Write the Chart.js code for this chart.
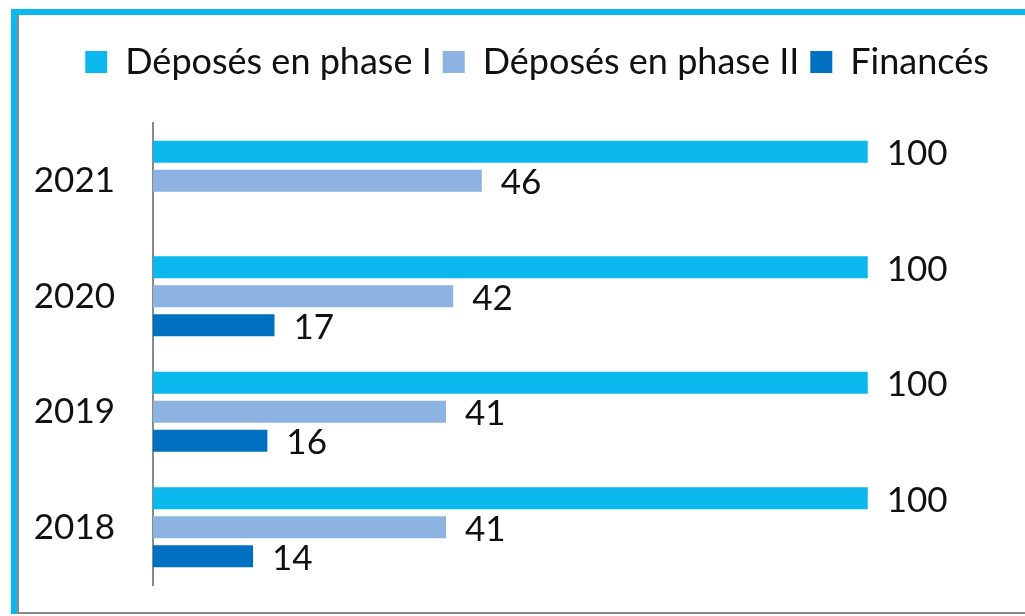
<!DOCTYPE html>
<html>
<head>
<meta charset="utf-8">
<script src="https://cdn.jsdelivr.net/npm/chart.js@4"></script>
<style>
  html, body { margin: 0; padding: 0; background: #fff; }
  body { width: 1025px; height: 616px; position: relative; overflow: hidden; }
  #frame {
    position: absolute; left: 11px; top: 9px; right: -10px; bottom: 2px;
    border-left: 6px solid #0BB8EE; border-top: 6px solid #0BB8EE;
  }
  #inner {
    position: absolute; left: 0; top: 0; right: 0; bottom: 0;
    border-left: 2px solid #8a8a8a; border-bottom: 2px solid #8a8a8a;
  }
  #wrap { position: absolute; left: 19px; top: 15px; width: 1006px; height: 597px; }
</style>
</head>
<body>
<div id="frame"><div id="inner"></div></div>
<div id="wrap"><canvas id="chart"></canvas></div>
<script>
// data
const years = ['2021', '2020', '2019', '2018'];
const phase1 = [100, 100, 100, 100];
const phase2 = [46, 42, 41, 41];
const finances = [null, 17, 16, 14];

const FONT = 'Lato, "Open Sans", sans-serif';

// value labels right of each bar
const valueLabels = {
  id: 'valueLabels',
  afterDatasetsDraw(chart) {
    const ctx = chart.ctx;
    ctx.save();
    ctx.font = '35px ' + FONT;
    ctx.fillStyle = '#111';
    ctx.textBaseline = 'middle';
    ctx.textAlign = 'left';
    chart.data.datasets.forEach((ds, i) => {
      chart.getDatasetMeta(i).data.forEach((bar, j) => {
        const v = ds.data[j];
        if (v == null) return;
        ctx.fillText(String(v), bar.x + 19, bar.y + 2);
      });
    });
    ctx.restore();
  }
};

// more room below the legend, and legend centred a bit right of the canvas middle
const legendTweak = {
  id: 'legendTweak',
  beforeInit(chart) {
    const fit = chart.legend.fit;
    chart.legend.fit = function () {
      fit.bind(chart.legend)();
      this.height += 33;
    };
  },
  afterLayout(chart) {
    chart.legend.left += 30;
  }
};

new Chart(document.getElementById('chart'), {
  type: 'bar',
  data: {
    labels: years,
    datasets: [
      { label: 'Déposés en phase I', data: phase1, backgroundColor: '#0BB8EE' },
      { label: 'Déposés en phase II', data: phase2, backgroundColor: '#8DB3E2' },
      { label: 'Financés', data: finances, backgroundColor: '#0070C0' }
    ]
  },
  options: {
    indexAxis: 'y',
    responsive: true,
    maintainAspectRatio: false,
    animation: false,
    categoryPercentage: 0.753,
    barPercentage: 0.76,
    layout: { padding: { left: 0, right: 0, top: 18, bottom: 27 } },
    plugins: {
      legend: {
        position: 'top',
        labels: {
          font: { family: FONT, size: 36 },
          color: '#111',
          boxWidth: 22,
          boxHeight: 22,
          padding: 11
        }
      },
      tooltip: { enabled: false }
    },
    scales: {
      x: { display: false, min: 0, max: 122 },
      y: {
        grid: { display: false },
        border: { display: true, color: '#8a8a8a', width: 2 },
        ticks: { font: { family: FONT, size: 35 }, color: '#111', padding: 30 },
        afterFit(scale) {
          scale.width = 134;
          scale.paddingTop = 0;
          scale.paddingBottom = 0;
        }
      }
    }
  },
  plugins: [valueLabels, legendTweak]
});
</script>
</body>
</html>
